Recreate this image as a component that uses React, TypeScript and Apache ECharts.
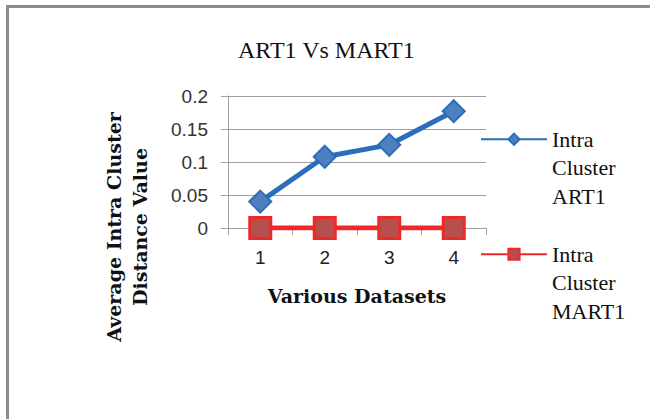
import React, { useEffect, useRef } from "react";
import * as echarts from "echarts";

const categories = ["1", "2", "3", "4"];
const art1Values = [0.04, 0.108, 0.126, 0.177];
const mart1Values = [0, 0, 0, 0];
const seriesNames = ["Intra Cluster ART1", "Intra Cluster MART1"];
const titleText = "ART1 Vs MART1";
const xAxisName = "Various Datasets";
const yAxisName = "Average Intra Cluster\nDistance Value";

const SERIF = "'DejaVu Serif', 'Liberation Serif', serif";
const SERIF_REG = "'Liberation Serif', 'Times New Roman', serif";
const SANS = "'Liberation Sans', Arial, sans-serif";

export default function App() {
  const ref = useRef<HTMLDivElement>(null);
  useEffect(() => {
    if (!ref.current) return;
    const chart = echarts.init(ref.current, null, { renderer: "svg" });
    const legendBase = {
      orient: "vertical",
      left: 475,
      itemWidth: 66,
      itemHeight: 14,
      itemGap: 0,
      selectedMode: false,
      formatter: (n: string) => " \n \n" + n.split(" ").join("\n"),
      textStyle: {
        fontFamily: SERIF_REG,
        fontSize: 22,
        color: "#111",
        lineHeight: 28.5,
      },
    };
    chart.setOption({
      animation: false,
      backgroundColor: "#fff",
      title: {
        text: titleText,
        left: 233,
        top: 33,
        textStyle: { fontFamily: SERIF_REG, fontSize: 24, fontWeight: "normal", color: "#111" },
      },
      legend: [
        { ...legendBase, top: 63, data: [seriesNames[0]] },
        { ...legendBase, top: 178, data: [seriesNames[1]] },
      ],
      grid: { left: 228, top: 96, width: 258, height: 132, containLabel: false },
      xAxis: {
        type: "category",
        data: categories,
        boundaryGap: true,
        name: xAxisName,
        nameLocation: "middle",
        nameGap: 58,
        nameTextStyle: { fontFamily: SERIF, fontSize: 19, fontWeight: "bold", color: "#111" },
        axisLine: { lineStyle: { color: "#a0a0a0", width: 1 } },
        axisTick: { show: true, length: 7, lineStyle: { color: "#a0a0a0" } },
        axisLabel: { fontFamily: SANS, fontSize: 19, color: "#222", margin: 20 },
      },
      yAxis: {
        type: "value",
        min: 0,
        max: 0.2,
        interval: 0.05,
        axisLine: { show: true, lineStyle: { color: "#a0a0a0", width: 1 } },
        axisTick: { show: true, length: 7, lineStyle: { color: "#a0a0a0" } },
        splitLine: { lineStyle: { color: "#a0a0a0", width: 1 } },
        axisLabel: { fontFamily: SANS, fontSize: 19, color: "#333", margin: 20 },
      },
      graphic: [
        {
          type: "line",
          shape: { x1: 7.5, y1: 5, x2: 7.5, y2: 419 },
          style: { stroke: "#8c8c8c", lineWidth: 3 },
        },
        {
          type: "line",
          shape: { x1: 6, y1: 6.5, x2: 650, y2: 6.5 },
          style: { stroke: "#8c8c8c", lineWidth: 3 },
        },
        {
          type: "text",
          x: 127,
          y: 227,
          rotation: Math.PI / 2,
          style: {
            text: yAxisName,
            fontFamily: SERIF,
            fontSize: 19,
            fontWeight: "bold",
            lineHeight: 26,
            fill: "#111",
            align: "center",
            verticalAlign: "middle",
          },
        },
      ],
      series: [
        {
          name: seriesNames[0],
          type: "line",
          data: art1Values,
          symbol: "diamond",
          symbolSize: 22,
          lineStyle: { color: "#2A6EBB", width: 5 },
          itemStyle: { color: "#4F7FBE", borderColor: "#2A6EBB", borderWidth: 2 },
          z: 3,
        },
        {
          name: seriesNames[1],
          type: "line",
          data: mart1Values,
          symbol: "rect",
          symbolSize: 21,
          lineStyle: { color: "#F02828", width: 5 },
          itemStyle: { color: "#B5504D", borderColor: "#F02828", borderWidth: 3 },
          z: 4,
        },
      ],
    });
    return () => chart.dispose();
  }, []);
  return (
    <div
      ref={ref}
      style={{ position: "fixed", left: 0, top: 0, width: 650, height: 419, background: "#fff" }}
    />
  );
}
